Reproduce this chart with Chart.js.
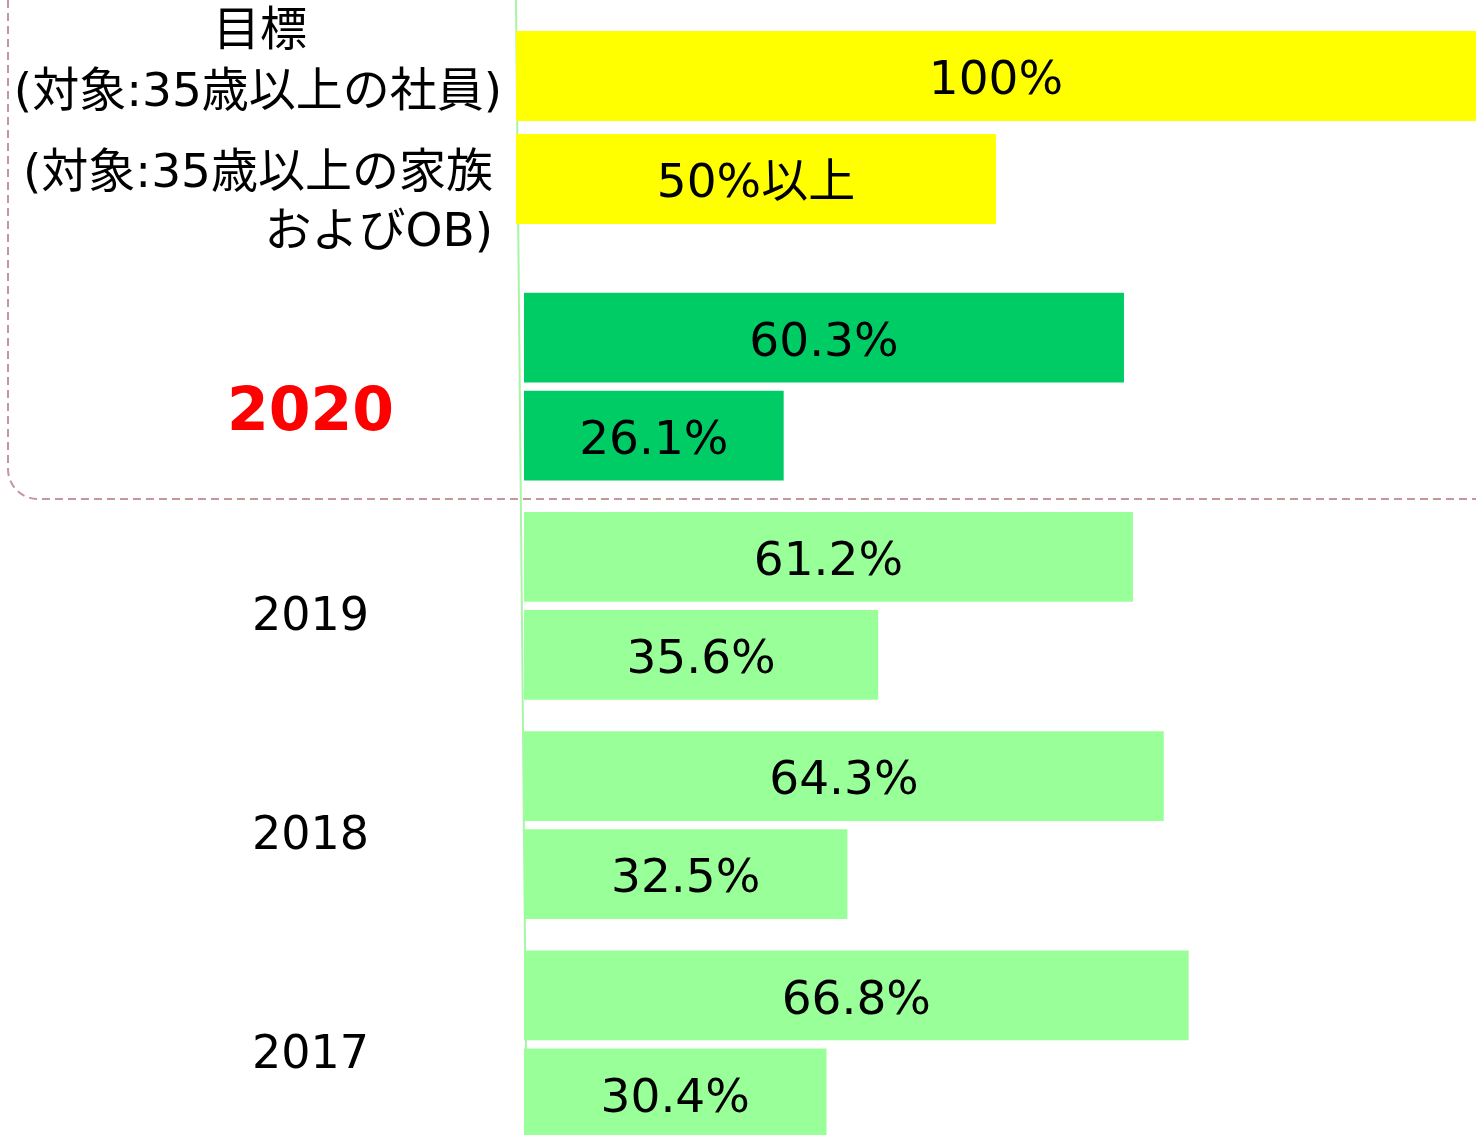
<!DOCTYPE html>
<html lang="ja">
<head>
<meta charset="utf-8">
<script src="https://cdn.jsdelivr.net/npm/chart.js@4.4.1/dist/chart.umd.min.js"></script>
<style>
  html, body { margin: 0; padding: 0; background: #fff; overflow: hidden; }
  body { width: 1476px; height: 1135px; position: relative; }
  #targetChart { position: absolute; left: 0; top: 0; }
  #yearChart { position: absolute; left: 0; top: 255px; }
  #frame { position: absolute; left: 0; top: 0; pointer-events: none; }
</style>
</head>
<body>
<canvas id="targetChart" width="1476" height="255"></canvas>
<canvas id="yearChart" width="1519" height="900"></canvas>
<svg id="frame" width="1476" height="1135">
  <path d="M8 0 V469 A30 30 0 0 0 38 499 H1476" fill="none" stroke="#c4979c" stroke-width="2" stroke-dasharray="8 5"/>
</svg>
<script>
// target (目標)
const targetLines = ['目標', '(対象:35歳以上の社員)', '(対象:35歳以上の家族', 'およびOB)'];
const targetEmployee = [100];
const targetFamily = [50];
const targetValueLabels = ['100%', '50%以上'];

// results per year
const years = ['2020', '2019', '2018', '2017'];
const employeeRates = [60.3, 61.2, 64.3, 66.8];
const familyRates = [26.1, 35.6, 32.5, 30.4];

const FONT = '"DejaVu Sans", "Noto Sans CJK JP", sans-serif';

// thin green axis line, drawn slightly slanted like the original slide
const makeAxisLine = (dxTop, dxBottom) => ({
  id: 'axisLine',
  beforeDatasetsDraw(chart) {
    const { ctx, chartArea } = chart;
    ctx.save();
    ctx.strokeStyle = '#a8f5a8';
    ctx.lineWidth = 2;
    ctx.beginPath();
    ctx.moveTo(chartArea.left + dxTop, 0);
    ctx.lineTo(chartArea.left + dxBottom, chart.height);
    ctx.stroke();
    ctx.restore();
  },
});

const makeValueLabels = (format) => ({
  id: 'valueLabels',
  afterDatasetsDraw(chart) {
    const ctx = chart.ctx;
    ctx.save();
    ctx.font = `47px ${FONT}`;
    ctx.fillStyle = '#000';
    ctx.textAlign = 'center';
    ctx.textBaseline = 'middle';
    chart.data.datasets.forEach((ds, di) => {
      chart.getDatasetMeta(di).data.forEach((bar, i) => {
        ctx.fillText(format(di, i), (bar.x + bar.base) / 2, bar.y + 6);
      });
    });
    ctx.restore();
  },
});

const targetLabel = {
  id: 'targetLabel',
  afterDraw(chart) {
    const { ctx, chartArea, scales } = chart;
    const cy = scales.y.getPixelForValue(0);
    const cx = chartArea.left / 2;
    ctx.save();
    ctx.font = `47px ${FONT}`;
    ctx.fillStyle = '#000';
    ctx.textBaseline = 'middle';
    ctx.textAlign = 'center';
    ctx.fillText(targetLines[0], cx + 2, cy - 95);
    ctx.fillText(targetLines[1], cx, cy - 34);
    ctx.fillText(targetLines[2], cx, cy + 47);
    const right = cx + ctx.measureText(targetLines[2]).width / 2;
    ctx.textAlign = 'right';
    ctx.fillText(targetLines[3], right, cy + 106);
    ctx.restore();
  },
};

new Chart(document.getElementById('targetChart'), {
  type: 'bar',
  data: {
    labels: [targetLines[0]],
    datasets: [
      { data: targetEmployee, backgroundColor: '#ffff00' },
      { data: targetFamily, backgroundColor: '#ffff00' },
    ],
  },
  options: {
    indexAxis: 'y',
    responsive: false,
    animation: false,
    layout: { padding: { left: 516, right: 0, top: 0, bottom: 0 } },
    datasets: { bar: { categoryPercentage: 0.808, barPercentage: 0.874 } },
    scales: {
      x: { display: false, min: 0, max: 100 },
      y: { display: false },
    },
    plugins: { legend: { display: false }, tooltip: { enabled: false } },
  },
  plugins: [makeAxisLine(0, 2.5), targetLabel, makeValueLabels((di) => targetValueLabels[di])],
});

const seriesRates = [employeeRates, familyRates];

new Chart(document.getElementById('yearChart'), {
  type: 'bar',
  data: {
    labels: years,
    datasets: seriesRates.map((rates) => ({
      data: rates,
      backgroundColor: (ctx) => (ctx.dataIndex === 0 ? '#00cc66' : '#99ff99'),
    })),
  },
  options: {
    indexAxis: 'y',
    responsive: false,
    animation: false,
    layout: { padding: { left: 0, right: 0, top: 22, bottom: 1 } },
    datasets: { bar: { categoryPercentage: 0.894, barPercentage: 0.918 } },
    scales: {
      x: { display: false, min: 0, max: 100 },
      y: {
        grid: { display: false, drawTicks: false },
        border: { display: false },
        afterFit(scale) {
          scale.width = 524;
          scale.paddingTop = 0;
          scale.paddingBottom = 0;
        },
        ticks: {
          crossAlign: 'center',
          padding: 130,
          labelOffset: 12,
          callback: (v, i) => (i === 0 ? ['', years[i]] : years[i]),
          color: (ctx) => (ctx.index === 0 ? '#ff0000' : '#000000'),
          font: (ctx) => (ctx.index === 0
            ? { family: FONT, size: 60, weight: 'bold', lineHeight: 0.533 }
            : { family: FONT, size: 46 }),
        },
      },
    },
    plugins: { legend: { display: false }, tooltip: { enabled: false } },
  },
  plugins: [makeAxisLine(-5.5, 3), makeValueLabels((di, i) => `${seriesRates[di][i].toFixed(1)}%`)],
});
</script>
</body>
</html>
